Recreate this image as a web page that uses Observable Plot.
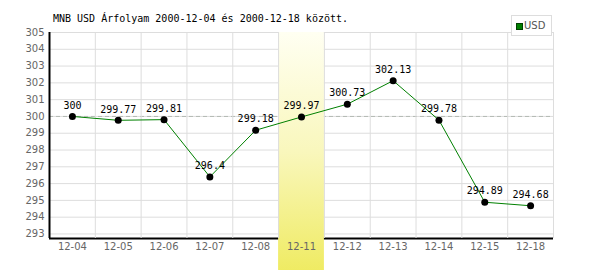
<!DOCTYPE html>
<html>
<head>
<meta charset="utf-8">
<script src="https://cdn.jsdelivr.net/npm/d3@7"></script>
<script src="https://cdn.jsdelivr.net/npm/@observablehq/plot@0.6"></script>
<style>
  html, body { margin: 0; padding: 0; background: #fff; }
  #wrap { position: relative; width: 600px; height: 270px; }
  #title { position: absolute; left: 53px; top: 13px; font: 10px "DejaVu Sans Mono", monospace; color: #000; white-space: pre; }
  #legend { position: absolute; left: 511px; top: 15px; width: 39px; height: 19px; border: 1px solid #ddd; background: #fff; box-sizing: content-box; }
  #legend .sw { position: absolute; left: 4px; top: 7px; width: 5px; height: 5px; background: #008000; border: 1px solid #004000; }
  #legend .lb { position: absolute; left: 12px; top: 4px; font: 10px "DejaVu Sans", sans-serif; color: #555; }
</style>
</head>
<body>
<div id="wrap">
  <div id="chart"></div>
  <div id="title">MNB USD Árfolyam 2000-12-04 és 2000-12-18 között.</div>
  <div id="legend"><div class="sw"></div><div class="lb">USD</div></div>
</div>
<script>
const dates = ["12-04","12-05","12-06","12-07","12-08","12-11","12-12","12-13","12-14","12-15","12-18"];
const usd = [300, 299.77, 299.81, 296.4, 299.18, 299.97, 300.73, 302.13, 299.78, 294.89, 294.68];
const yTicks = [293,294,295,296,297,298,299,300,301,302,303,304,305];
const highlighted = ["12-11"];
const reference = [300];

const data = dates.map((d, i) => ({date: d, value: usd[i]}));
const yMin = 292.73, yMax = 305;
const W = 600, H = 270, mL = 49, mR = 47, mT = 32, mB = 32;
const half = (W - mL - mR) / dates.length / 2;

const defs = () => {
  const ns = "http://www.w3.org/2000/svg";
  const d = document.createElementNS(ns, "defs");
  d.innerHTML = `<linearGradient id="hl" x1="0" y1="0" x2="0" y2="1">
    <stop offset="0" stop-color="#fffff2"/>
    <stop offset="0.5" stop-color="#f9f7bc"/>
    <stop offset="1" stop-color="#efeb62"/>
  </linearGradient>`;
  return d;
};

const chart = Plot.plot({
  width: W, height: H,
  marginLeft: mL, marginRight: mR, marginTop: mT, marginBottom: mB,
  style: {fontFamily: "DejaVu Sans, sans-serif", fontSize: "10px", color: "#666", background: "#fff"},
  x: {type: "band", domain: dates, padding: 0, round: false, axis: null},
  y: {domain: [yMin, yMax], ticks: yTicks, tickSize: 0, tickPadding: 5, label: null, tickFormat: d => String(d)},
  marks: [
    defs,
    Plot.ruleY(yTicks, {stroke: "#dddddd", strokeWidth: 1}),
    Plot.ruleY(reference, {stroke: "#b4bab4", strokeDasharray: "4,3"}),
    Plot.ruleX([0], {x: () => dates[0], dx: -half, y1: yMin, y2: yMax, stroke: "#000", strokeWidth: 2}),
    Plot.ruleY([yMin], {stroke: "#000", strokeWidth: 2}),
    Plot.barY(highlighted, {x: d => d, y1: yMax, y2: yMin - 2, fill: "url(#hl)"}),
    Plot.ruleX(dates, {dx: half, y1: yMin, y2: yMax, stroke: "#dddddd"}),
    Plot.text(dates, {x: d => d, frameAnchor: "bottom", dy: 11, fill: "#666",
      fontFamily: "DejaVu Sans, sans-serif", fontSize: 10}),
    Plot.line(data, {x: "date", y: "value", stroke: "#008000", strokeWidth: 1}),
    Plot.dot(data, {x: "date", y: "value", r: 3.5, fill: "#000", stroke: "none"}),
    Plot.text(data, {x: "date", y: "value", text: d => String(d.value), dy: -11, fill: "#000",
      fontFamily: "DejaVu Sans Mono, monospace", fontSize: 10})
  ]
});
document.getElementById("chart").appendChild(chart);
</script>
</body>
</html>
